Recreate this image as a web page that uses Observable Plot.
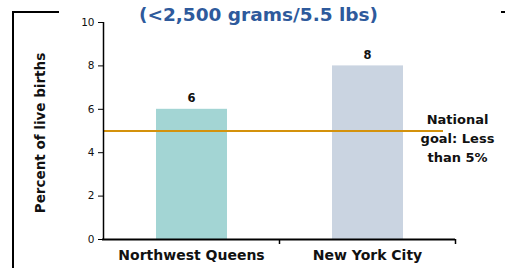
<!DOCTYPE html>
<html><head><meta charset="utf-8">
<script src="https://cdn.jsdelivr.net/npm/d3@7"></script>
<script src="https://cdn.jsdelivr.net/npm/@observablehq/plot@0.6"></script>
<style>
html,body{margin:0;padding:0;background:#fff;}
#wrap{position:relative;width:505px;height:268px;overflow:hidden;font-family:"DejaVu Sans",sans-serif;}
#title{position:absolute;left:138px;width:241px;top:4px;text-align:center;white-space:nowrap;font-weight:bold;font-size:18.5px;color:#2E5A9C;}
.frameV{position:absolute;left:12px;top:11px;width:2px;height:270px;background:#000;}
.frameH{position:absolute;left:12px;top:11px;width:47px;height:2px;background:#000;}
.frameR{position:absolute;left:501px;top:11px;width:4px;height:2px;background:#000;}
#chart{position:absolute;left:0;top:0;}
</style></head>
<body><div id="wrap">
<div class="frameV"></div><div class="frameH"></div><div class="frameR"></div>
<div id="title">(&lt;2,500 grams/5.5 lbs)</div>
<div id="chart"></div>
</div>
<script>
const categories = ["Northwest Queens", "New York City"];
const values = [6, 8];
const barColors = ["#A3D5D4", "#CAD4E1"];
const goalValue = 5;
const goalLabel = "National\ngoal: Less\nthan 5%";
const yTicks = [0, 2, 4, 6, 8, 10];
const yLabel = "Percent of live births";

const data = categories.map((c, i) => ({cat: c, i, value: values[i], color: barColors[i]}));

const plot = Plot.plot({
  width: 505, height: 268,
  marginLeft: 103, marginRight: 50, marginTop: 22, marginBottom: 29,
  style: {fontFamily: '"DejaVu Sans",sans-serif', background: "transparent", overflow: "visible"},
  x: {domain: [0, categories.length], axis: null},
  y: {domain: [0, 10], axis: null},
  marks: [
    Plot.rectY(data, {x1: d => d.i, x2: d => d.i + 1, y1: 0, y2: "value", fill: "color", insetLeft: 53, insetRight: 52}),
    Plot.ruleY([goalValue], {stroke: "#D4920C", strokeWidth: 2, insetRight: 12}),
    Plot.text([goalLabel], {x: categories.length, y: goalValue, dx: 2, dy: 6, lineAnchor: "middle", textAnchor: "middle", fontWeight: "bold", fontSize: 13, lineHeight: 1.45, fill: "#111"}),
    Plot.text(data, {x: d => d.i + 0.5, y: "value", text: d => String(d.value), dy: -11, fontWeight: "bold", fontSize: 11.5, fill: "#111"}),
    Plot.axisY({ticks: yTicks, tickSize: 5, tickPadding: 4, fontSize: 10.5, fill: "#111", tickFormat: d => String(d), label: null}),
    Plot.ruleX([0], {stroke: "#000", strokeWidth: 1.5}),
    Plot.ruleY([0], {stroke: "#000", strokeWidth: 2, insetLeft: -1}),
    Plot.axisX({ticks: [1, 2], tickSize: 5, tickFormat: () => "", label: null, strokeWidth: 1.5}),
    Plot.axisX({ticks: categories.map((c, i) => i + 0.5), tickSize: 0, tickPadding: 11, tickFormat: d => categories[Math.floor(d)], fontSize: 14, fontWeight: "bold", fill: "#111", label: null}),
    Plot.text([yLabel], {frameAnchor: "left", textAnchor: "middle", rotate: -90, dx: -63, dy: 2, fontWeight: "bold", fontSize: 13.5, fill: "#111"})
  ]
});
document.getElementById("chart").appendChild(plot);
</script>
</body></html>
